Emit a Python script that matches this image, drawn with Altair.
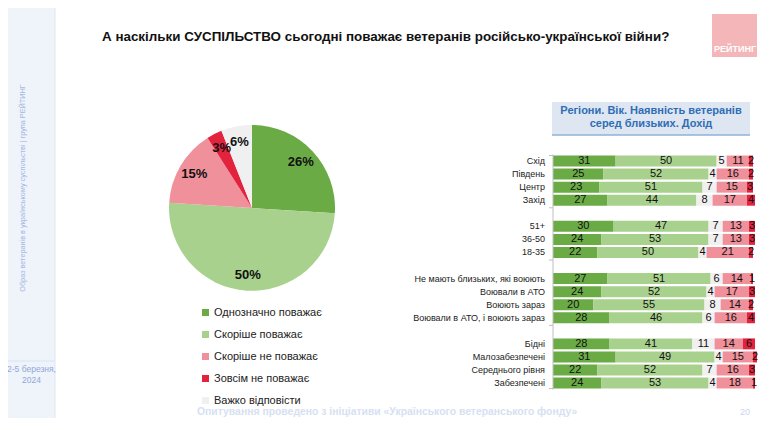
import altair as alt
import pandas as pd

FONT = "Liberation Sans"

title_text = "А наскільки СУСПІЛЬСТВО сьогодні поважає ветеранів російсько-української війни?"
header_lines = ["Регіони. Вік. Наявність ветеранів", "серед близьких. Дохід"]
side_text = "Образ ветеранів в українському суспільстві | група РЕЙТИНГ"
date_lines = ["2-5 березня,", "2024"]
footer_text = "Опитування проведено з ініціативи «Українського ветеранського фонду»"
page_no = "20"
logo_text = "РЕЙТИНГ"

categories = ["Однозначно поважає", "Скоріше поважає", "Скоріше не поважає",
              "Зовсім не поважає", "Важко відповісти"]
colors = ["#6aab46", "#a9d18e", "#f0909b", "#e3223e", "#f0f0f0"]
pie_values = [26, 50, 15, 3, 6]

rows = ["Схід", "Південь", "Центр", "Захід",
        "51+", "36-50", "18-35",
        "Не мають близьких, які воюють", "Воювали в АТО", "Воюють зараз",
        "Воювали в АТО, і воюють зараз",
        "Бідні", "Малозабезпечені", "Середнього рівня", "Забезпечені"]
row_order = rows[0:4] + [" "] + rows[4:7] + ["  "] + rows[7:11] + ["   "] + rows[11:15]

strongly = [31, 25, 23, 27, 30, 24, 22, 27, 24, 20, 28, 28, 31, 22, 24]
rather = [50, 52, 51, 44, 47, 53, 50, 51, 52, 55, 46, 41, 49, 52, 53]
hard = [5, 4, 7, 8, 7, 7, 4, 6, 4, 8, 6, 11, 4, 7, 4]
rather_not = [11, 16, 15, 17, 13, 13, 21, 14, 17, 14, 16, 14, 15, 16, 18]
not_at_all = [2, 2, 3, 4, 3, 3, 2, 1, 3, 2, 4, 6, 2, 3, 1]

bar_order = ["Однозначно поважає", "Скоріше поважає", "Важко відповісти",
             "Скоріше не поважає", "Зовсім не поважає"]
series = [strongly, rather, hard, rather_not, not_at_all]

pie_df = pd.DataFrame({"cat": categories, "v": pie_values, "ord": list(range(5)),
                       "lbl": [f"{v}%" for v in pie_values]})

records = []
for i, r in enumerate(rows):
    for k, (cat, s) in enumerate(zip(bar_order, series)):
        records.append({"row": r, "cat": cat, "v": s[i], "ord": k})
bar_df = pd.DataFrame(records)

one = alt.Data(values=[{}])

cscale = alt.Scale(domain=categories, range=colors)
legend = alt.Legend(orient="none", legendX=192, legendY=299, title=None,
                    symbolType="square", symbolSize=49, symbolStrokeWidth=0,
                    labelFontSize=11, labelFont=FONT, labelColor="#222222",
                    rowPadding=10, labelOffset=3, padding=0)

xs = alt.Scale(domain=[0, 100], range=[545, 747])
ys = alt.Scale(domain=row_order, range=[146.5, 381.6], paddingInner=0.16, paddingOuter=0.08)

# decorations
sidebar = alt.Chart(one).mark_rect(color="#eff3fa").encode(
    x=alt.value(0), x2=alt.value(47), y=alt.value(0), y2=alt.value(410))
sidebar_edge = alt.Chart(one).mark_rule(color="#dde6f3").encode(
    x=alt.value(47), y=alt.value(0), y2=alt.value(410))
sidebar_sep = alt.Chart(one).mark_rule(color="#dbe4f2").encode(
    x=alt.value(0), x2=alt.value(47), y=alt.value(353))
side_label = alt.Chart(one).mark_text(angle=270, fontSize=7.3, color="#a3b8e3", font=FONT).encode(
    x=alt.value(15), y=alt.value(180), text=alt.value(side_text))
date_label = alt.Chart(one).mark_text(fontSize=8.5, color="#8fa8d8", font=FONT, lineHeight=11).encode(
    x=alt.value(23.5), y=alt.value(361), text=alt.value(date_lines))

title = alt.Chart(one).mark_text(align="left", fontSize=13.4, fontWeight="bold", color="#111111", font=FONT).encode(
    x=alt.value(94), y=alt.value(29), text=alt.value(title_text))

logo = alt.Chart(one).mark_rect(color="#f4b6b9").encode(
    x=alt.value(704), x2=alt.value(749), y=alt.value(6), y2=alt.value(49))
logo_t = alt.Chart(one).mark_text(fontSize=9, fontWeight="bold", color="white", font=FONT).encode(
    x=alt.value(727), y=alt.value(41), text=alt.value(logo_text))

header_box = alt.Chart(one).mark_rect(color="#dde6f1").encode(
    x=alt.value(544), x2=alt.value(742), y=alt.value(94), y2=alt.value(127))
header_line = alt.Chart(one).mark_rule(color="#8fb0d8", strokeWidth=1.5).encode(
    x=alt.value(544), x2=alt.value(742), y=alt.value(127))
header_t = alt.Chart(one).mark_text(fontSize=11, fontWeight="bold", color="#2f6db5", font=FONT, lineHeight=13).encode(
    x=alt.value(643), y=alt.value(103), text=alt.value(header_lines))

footer = alt.Chart(one).mark_text(align="left", fontSize=10.4, fontWeight="bold", color="#d6e1f2", font=FONT).encode(
    x=alt.value(189), y=alt.value(404), text=alt.value(footer_text))
page = alt.Chart(one).mark_text(fontSize=9, color="#c9d6ec", font=FONT).encode(
    x=alt.value(737), y=alt.value(404), text=alt.value(page_no))

# pie
pie = alt.Chart(pie_df).mark_arc(radius=83).encode(
    theta=alt.Theta("v:Q", stack=True),
    order=alt.Order("ord:Q"),
    color=alt.Color("cat:N", scale=cscale, legend=legend),
    x=alt.value(244), y=alt.value(200))
pie_lbl = alt.Chart(pie_df).mark_text(radius=67, fontSize=13, fontWeight="bold", color="#111111", font=FONT).encode(
    theta=alt.Theta("v:Q", stack=True),
    order=alt.Order("ord:Q"),
    text="lbl:N",
    x=alt.value(244), y=alt.value(200))

# bars
base = alt.Chart(bar_df).transform_stack(
    stack="v", groupby=["row"], sort=[alt.SortField("ord")], as_=["x0", "x1"]
).transform_calculate(mid="(datum.x0 + datum.x1) / 2")
bars = base.mark_bar().encode(
    x=alt.X("x0:Q", scale=xs, axis=None), x2="x1:Q",
    y=alt.Y("row:N", scale=ys, axis=None),
    color=alt.Color("cat:N", scale=cscale, legend=legend))
nums = base.mark_text(fontSize=11, color="#111111", font=FONT).encode(
    x=alt.X("mid:Q", scale=xs, axis=None),
    y=alt.Y("row:N", scale=ys, axis=None),
    text="v:Q")
cat_lbl = alt.Chart(pd.DataFrame({"row": rows})).mark_text(align="right", fontSize=9, color="#222222", font=FONT).encode(
    x=alt.value(537), y=alt.Y("row:N", scale=ys, axis=None), text="row:N")

axis_line = alt.Chart(one).mark_rule(color="#bfbfbf").encode(
    x=alt.value(545), y=alt.value(146.5), y2=alt.value(381.6))
tick_top = alt.Chart(pd.DataFrame({"row": ["Схід", " ", "  ", "   "]})).mark_rule(color="#bfbfbf").encode(
    x=alt.value(541), x2=alt.value(545), y=alt.Y("row:N", scale=ys, axis=None, bandPosition=0))
tick_bot = alt.Chart(pd.DataFrame({"row": ["Забезпечені"]})).mark_rule(color="#bfbfbf").encode(
    x=alt.value(541), x2=alt.value(545), y=alt.Y("row:N", scale=ys, axis=None, bandPosition=1))

chart = alt.layer(
    sidebar, sidebar_edge, sidebar_sep, side_label, date_label, title, logo, logo_t,
    header_box, header_line, header_t, footer, page,
    pie, pie_lbl, bars, nums, cat_lbl, axis_line, tick_top, tick_bot
).properties(
    width=750, height=410, padding=0, autosize="none", background="white"
).configure_view(stroke=None)

chart.save("out.html", embed_options={"renderer": "svg", "actions": False})
